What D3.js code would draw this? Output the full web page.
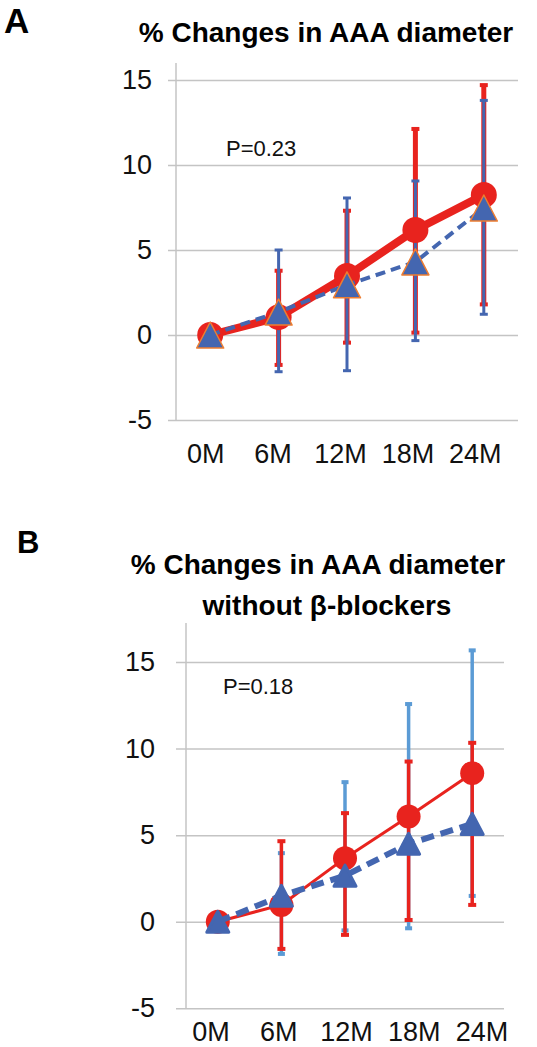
<!DOCTYPE html>
<html><head><meta charset="utf-8">
<script src="https://cdn.jsdelivr.net/npm/d3@7"></script>
<style>
html,body{margin:0;padding:0;background:#fff;}
svg{display:block;font-family:"Liberation Sans",Arial,sans-serif;}
</style></head>
<body>
<svg id="c" width="537" height="1047"></svg>
<script>
// ---------- data ----------
const categories = ["0M","6M","12M","18M","24M"];
const yTicks = [-5, 0, 5, 10, 15];

// Panel A
const redA    = [0, 1.05, 3.47, 6.18, 8.24];
const redAHi  = [null, 3.78, 7.31, 12.12, 14.7];
const redALo  = [null, -1.76, -0.45, 0.14, 1.8];
const blueA   = [0, 1.35, 2.95, 4.3, 7.47];
const blueAHi = [null, 5.0, 8.06, 9.06, 13.8];
const blueALo = [null, -2.16, -2.1, -0.33, 1.22];

// Panel B
const redB    = [0, 0.97, 3.67, 6.08, 8.58];
const redBHi  = [null, 4.65, 6.27, 9.25, 10.33];
const redBLo  = [null, -1.57, -0.76, 0.1, 0.97];
const blueB   = [0, 1.5, 2.66, 4.5, 5.65];
const blueBHi = [null, 3.96, 8.06, 12.57, 15.67];
const blueBLo = [null, -1.86, -0.5, -0.38, 1.49];

const RED = "#e8231e", BLUE = "#4466b0", LBLUE = "#5b9bd5", ORANGE = "#ed7d31", GRID = "#c4c4c4";

const svg = d3.select("#c");

function panel(o){
  const g = svg.append("g");
  const x = d3.scaleBand().domain(categories).range([o.axisX, o.right]);
  const xl = d3.scaleBand().domain(categories).range(o.labelRange);
  const y = d3.scaleLinear().domain(o.yDomain).range([o.bottom, o.top]);
  const cx = c => x(c) + x.bandwidth()/2;

  // gridlines + y labels
  const ya = g.append("g").attr("transform", `translate(${o.right},0)`)
    .call(d3.axisLeft(y).tickValues(yTicks).tickSize(o.right - o.gridLeft).tickPadding(o.yPad).tickFormat(d => String(d)));
  ya.select(".domain").remove();
  ya.selectAll(".tick line").attr("stroke", GRID).attr("stroke-width", 1.5);
  ya.selectAll(".tick text").attr("font-size", 27).attr("fill", "#111").attr("font-family", "Liberation Sans, Arial, sans-serif");

  // vertical axis line
  g.append("line").attr("x1", o.axisX).attr("x2", o.axisX).attr("y1", o.top).attr("y2", o.bottom)
    .attr("stroke", GRID).attr("stroke-width", 1.5);

  // x labels
  const xa = g.append("g").attr("transform", `translate(0,${o.bottom})`)
    .call(d3.axisBottom(xl).tickSize(0).tickPadding(o.xPad));
  xa.select(".domain").remove();
  xa.selectAll(".tick text").attr("font-size", 27).attr("fill", "#111").attr("font-family", "Liberation Sans, Arial, sans-serif");

  // error bars
  function errBars(vals, hi, lo, color, w, capW, capH){
    const idx = categories.map((c,i)=>i).filter(i => hi[i] != null);
    const eg = g.append("g");
    eg.selectAll("line.v").data(idx).join("line")
      .attr("x1", i => cx(categories[i])).attr("x2", i => cx(categories[i]))
      .attr("y1", i => y(hi[i])).attr("y2", i => y(lo[i]))
      .attr("stroke", color).attr("stroke-width", w);
    const caps = idx.flatMap(i => [[i, hi[i]], [i, lo[i]]]);
    eg.selectAll("rect.cap").data(caps).join("rect")
      .attr("x", d => cx(categories[d[0]]) - capW/2).attr("y", d => y(d[1]) - capH/2)
      .attr("width", capW).attr("height", capH).attr("fill", color);
  }
  o.bars.forEach(b => errBars(b.v, b.hi, b.lo, b.color, b.w, b.capW, b.capH));

  const line = d3.line().x((d,i) => cx(categories[i])).y(d => y(d));

  // red series
  g.append("path").datum(o.red).attr("d", line).attr("fill", "none")
    .attr("stroke", RED).attr("stroke-width", o.redW).attr("stroke-linejoin", "round");
  g.selectAll("circle.r").data(o.red).join("circle")
    .attr("cx", (d,i) => cx(categories[i])).attr("cy", d => y(d)).attr("r", o.circR).attr("fill", RED);

  // blue series
  g.append("path").datum(o.blue).attr("d", line).attr("fill", "none")
    .attr("stroke", BLUE).attr("stroke-width", o.blueW).attr("stroke-dasharray", o.dash);
  const tri = (px, py, w, h) => `M${px},${py-h/2}L${px+w/2},${py+h/2}L${px-w/2},${py+h/2}Z`;
  g.selectAll("path.t").data(o.blue).join("path")
    .attr("d", (d,i) => tri(cx(categories[i]), y(d), o.triW, o.triH))
    .attr("fill", BLUE).attr("stroke", o.triStroke).attr("stroke-width", o.triSW).attr("stroke-linejoin", "round");

  // p-value
  g.append("text").attr("x", o.pX).attr("y", o.pY).attr("font-size", 22).attr("fill", "#111").text(o.pText);
}

// Panel A
svg.append("text").attr("x", 4).attr("y", 33).attr("font-size", 35).attr("font-weight", "bold").text("A");
svg.append("text").attr("x", 326).attr("y", 42).attr("text-anchor", "middle").attr("font-size", 28).attr("font-weight", "bold")
  .text("% Changes in AAA diameter");
panel({
  axisX: 176, right: 518, gridLeft: 168, top: 63, bottom: 420, yDomain: [-5, 16],
  labelRange: [172, 509], yPad: 16, xPad: 24,
  red: redA, blue: blueA, redW: 8, blueW: 4, dash: "10,6", circR: 13,
  triW: 27, triH: 26, triStroke: ORANGE, triSW: 1.5,
  bars: [
    {v: redA, hi: redAHi, lo: redALo, color: RED, w: 5, capW: 8, capH: 4},
    {v: blueA, hi: blueAHi, lo: blueALo, color: BLUE, w: 3, capW: 8, capH: 3}
  ],
  pX: 226, pY: 156, pText: "P=0.23"
});

// Panel B
svg.append("text").attr("x", 17).attr("y", 553).attr("font-size", 31).attr("font-weight", "bold").text("B");
svg.append("text").attr("x", 318).attr("y", 574).attr("text-anchor", "middle").attr("font-size", 28).attr("font-weight", "bold")
  .text("% Changes in AAA diameter");
svg.append("text").attr("x", 327).attr("y", 615).attr("text-anchor", "middle").attr("font-size", 28).attr("font-weight", "bold")
  .text("without β-blockers");
panel({
  axisX: 186, right: 504, gridLeft: 176, top: 623, bottom: 1008.3, yDomain: [-5, 17.25],
  labelRange: [177, 516], yPad: 21, xPad: 14,
  red: redB, blue: blueB, redW: 3, blueW: 6, dash: "13,7", circR: 12,
  triW: 22, triH: 21, triStroke: BLUE, triSW: 3,
  bars: [
    {v: blueB, hi: blueBHi, lo: blueBLo, color: LBLUE, w: 3.5, capW: 7, capH: 4},
    {v: redB, hi: redBHi, lo: redBLo, color: RED, w: 3.5, capW: 8, capH: 4}
  ],
  pX: 223, pY: 694, pText: "P=0.18"
});
</script>
</body></html>
